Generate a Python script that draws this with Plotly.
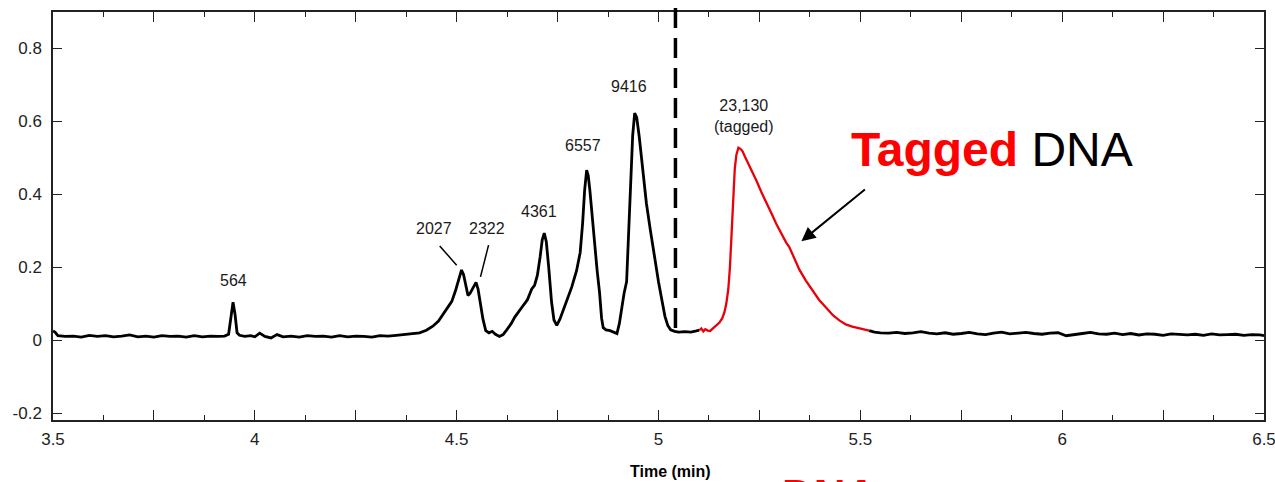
import plotly.graph_objects as go

# ---------------- data ----------------
time_part1 = [3.500, 3.505, 3.512, 3.53, 3.55, 3.57, 3.59, 3.61, 3.63, 3.65, 3.67, 3.69, 3.71, 3.73,
              3.75, 3.77, 3.79, 3.81, 3.83, 3.85, 3.87, 3.89, 3.91, 3.925, 3.935, 3.941, 3.946, 3.951,
              3.956, 3.962, 3.975, 3.99, 4.00, 4.012, 4.025, 4.04, 4.055, 4.07, 4.09, 4.11, 4.13, 4.15,
              4.17, 4.19, 4.21, 4.23, 4.25, 4.27, 4.29, 4.31, 4.33, 4.35, 4.37, 4.39, 4.408, 4.425,
              4.441, 4.455, 4.465, 4.478, 4.488, 4.497, 4.505, 4.512, 4.517, 4.522, 4.528, 4.533, 4.540,
              4.548, 4.553, 4.558, 4.565, 4.572, 4.58, 4.588, 4.596, 4.606, 4.615, 4.624, 4.635, 4.644,
              4.655, 4.663, 4.675, 4.686, 4.693, 4.700, 4.707, 4.712, 4.717, 4.722, 4.728, 4.735, 4.741,
              4.748, 4.756, 4.765, 4.774, 4.785, 4.797, 4.806, 4.812, 4.817, 4.822, 4.826, 4.830, 4.836,
              4.842, 4.848, 4.854, 4.859, 4.863, 4.870, 4.880, 4.890, 4.897, 4.903, 4.909, 4.915, 4.921,
              4.926, 4.931, 4.936, 4.941, 4.946, 4.952, 4.960, 4.970, 4.980, 4.990, 5.000, 5.008, 5.016,
              5.023, 5.030, 5.040, 5.050, 5.065, 5.080, 5.094, 5.101]
signal_part1 = [0.025, 0.022, 0.012, 0.010, 0.011, 0.008, 0.013, 0.010, 0.012, 0.009, 0.011, 0.014, 0.009, 0.011,
                0.008, 0.012, 0.010, 0.011, 0.008, 0.012, 0.009, 0.011, 0.010, 0.011, 0.016, 0.065, 0.104, 0.070,
                0.020, 0.013, 0.010, 0.012, 0.009, 0.019, 0.010, 0.006, 0.015, 0.009, 0.011, 0.008, 0.012, 0.010,
                0.011, 0.008, 0.012, 0.009, 0.011, 0.010, 0.008, 0.012, 0.011, 0.013, 0.015, 0.017, 0.020, 0.027,
                0.038, 0.052, 0.068, 0.088, 0.106, 0.135, 0.168, 0.192, 0.180, 0.150, 0.122, 0.128, 0.143,
                0.158, 0.140, 0.105, 0.058, 0.026, 0.020, 0.024, 0.016, 0.010, 0.015, 0.028, 0.045, 0.063,
                0.078, 0.092, 0.110, 0.140, 0.150, 0.178, 0.230, 0.275, 0.293, 0.270, 0.200, 0.105, 0.055,
                0.040, 0.058, 0.085, 0.110, 0.145, 0.190, 0.240, 0.320, 0.410, 0.466, 0.450, 0.410, 0.330,
                0.262, 0.190, 0.130, 0.060, 0.034, 0.028, 0.026, 0.021, 0.018, 0.045, 0.095, 0.130, 0.160,
                0.280, 0.440, 0.560, 0.622, 0.610, 0.560, 0.470, 0.375, 0.300, 0.228, 0.160, 0.112, 0.065,
                0.040, 0.028, 0.024, 0.022, 0.023, 0.022, 0.025, 0.027]

time_tagged = [5.101, 5.106, 5.111, 5.116, 5.122, 5.128, 5.135, 5.143, 5.151, 5.158, 5.163, 5.168, 5.173,
               5.177, 5.181, 5.185, 5.189, 5.193, 5.198, 5.203, 5.208, 5.214, 5.220, 5.230, 5.243, 5.255,
               5.267, 5.280, 5.292, 5.305, 5.316, 5.324, 5.336, 5.349, 5.365, 5.381, 5.398, 5.416, 5.432,
               5.448, 5.464, 5.480, 5.497, 5.510, 5.522]
signal_tagged = [0.027, 0.032, 0.024, 0.030, 0.026, 0.025, 0.032, 0.040, 0.048, 0.060, 0.075, 0.100, 0.140,
                 0.200, 0.300, 0.400, 0.470, 0.508, 0.527, 0.524, 0.518, 0.503, 0.490, 0.465, 0.436, 0.405,
                 0.375, 0.347, 0.318, 0.290, 0.268, 0.255, 0.225, 0.193, 0.163, 0.136, 0.110, 0.088, 0.068,
                 0.054, 0.043, 0.037, 0.032, 0.029, 0.026]

time_part2 = [5.522, 5.535, 5.55, 5.57, 5.59, 5.61, 5.63, 5.65, 5.67, 5.69, 5.71, 5.73, 5.75, 5.77, 5.79,
              5.81, 5.83, 5.85, 5.87, 5.89, 5.91, 5.93, 5.95, 5.97, 5.99, 6.01, 6.03, 6.05, 6.07, 6.09,
              6.11, 6.13, 6.15, 6.17, 6.19, 6.21, 6.23, 6.25, 6.27, 6.29, 6.31, 6.33, 6.35, 6.37, 6.39,
              6.41, 6.43, 6.45, 6.47, 6.49, 6.50]
signal_part2 = [0.026, 0.022, 0.020, 0.019, 0.021, 0.018, 0.020, 0.023, 0.019, 0.017, 0.020, 0.016, 0.018,
                0.021, 0.017, 0.015, 0.019, 0.022, 0.017, 0.019, 0.021, 0.018, 0.016, 0.019, 0.020, 0.012,
                0.016, 0.018, 0.021, 0.017, 0.016, 0.019, 0.015, 0.018, 0.014, 0.017, 0.016, 0.013, 0.017,
                0.015, 0.014, 0.016, 0.013, 0.017, 0.014, 0.015, 0.016, 0.013, 0.015, 0.014, 0.012]

peak_labels = ["564", "2027", "2322", "4361", "6557", "9416", "23,130<br>(tagged)"]
label_x = [3.948, 4.443, 4.574, 4.705, 4.814, 4.926, 5.213]
label_y = [0.162, 0.307, 0.307, 0.351, 0.534, 0.696, 0.615]

# leader lines (label -> peak) for the two close peaks
leader_x0 = [4.458, 4.579]
leader_y0 = [0.258, 0.260]
leader_x1 = [4.500, 4.559]
leader_y1 = [0.205, 0.173]

marker_time = 5.042       # dashed separator
marker_bottom = 0.033

x_range = [3.5, 6.5]
y_range = [-0.219, 0.899]
x_label_vals = [3.5, 3.75, 4.0, 4.25, 4.5, 4.75, 5.0, 5.25, 5.5, 5.75, 6.0, 6.25, 6.5]
x_label_text = ["3.5", "", "4", "", "4.5", "", "5", "", "5.5", "", "6", "", "6.5"]
y_label_vals = [-0.2, 0, 0.2, 0.4, 0.6, 0.8]
y_label_text = ["-0.2", "0", "0.2", "0.4", "0.6", "0.8"]

FONT = "Liberation Sans, Arial, sans-serif"

fig = go.Figure()
fig.add_trace(go.Scatter(x=time_part1 + [None] + time_part2,
                         y=signal_part1 + [None] + signal_part2,
                         mode="lines", line=dict(color="black", width=2.8),
                         showlegend=False, hoverinfo="skip"))
fig.add_trace(go.Scatter(x=time_tagged, y=signal_tagged, mode="lines",
                         line=dict(color="#e8000b", width=2.3),
                         showlegend=False, hoverinfo="skip"))

for t, lx, ly in zip(peak_labels, label_x, label_y):
    fig.add_annotation(x=lx, y=ly, xref="x", yref="y", text=t, showarrow=False,
                       font=dict(family=FONT, size=16, color="#1a1a1a"))

for a, b, c, d in zip(leader_x0, leader_y0, leader_x1, leader_y1):
    fig.add_shape(type="line", x0=a, y0=b, x1=c, y1=d, xref="x", yref="y",
                  line=dict(color="black", width=1.5))

span = y_range[1] - y_range[0]
fig.add_shape(type="line", xref="x", yref="paper", x0=marker_time, x1=marker_time,
              y0=(marker_bottom - y_range[0]) / span, y1=1.1,
              line=dict(color="black", width=3.5, dash="20px,10px"))

# "Tagged DNA" callout and arrow
fig.add_annotation(x=5.827, y=0.522, xref="x", yref="y", showarrow=False,
                   text="<b><span style='color:#ff0000'>Tagged</span></b> DNA",
                   font=dict(family=FONT, size=48, color="black"))
fig.add_annotation(x=5.354, y=0.271, ax=5.515, ay=0.416, xref="x", yref="y",
                   axref="x", ayref="y", text="", showarrow=True, arrowhead=2,
                   arrowsize=1.4, arrowwidth=2, arrowcolor="black")

# axis title and cut-off red text at the bottom (as in the reference)
fig.add_annotation(x=0.5103, y=-0.125, xref="paper", yref="paper", yanchor="middle",
                   xanchor="center", showarrow=False,
                   text="<b>Time (min)</b>", font=dict(family=FONT, size=16, color="black"))
fig.add_annotation(x=0.6416, y=-0.119, xref="paper", yref="paper", yanchor="top",
                   xanchor="center", showarrow=False, text="<b>DNA</b>",
                   font=dict(family=FONT, size=44, color="#ff0000"))

axis_common = dict(showline=True, linecolor="#222", linewidth=1.5, mirror="ticks",
                   ticks="inside", tickcolor="#222", tickwidth=1.2, showgrid=False,
                   zeroline=False, automargin=False, ticklabeloverflow="allow",
                   tickfont=dict(family=FONT, size=17, color="#222"))
fig.update_xaxes(range=x_range, tickmode="array", tickvals=x_label_vals, ticktext=x_label_text,
                 ticklen=10, ticklabelstandoff=3,
                 minor=dict(dtick=0.125, tick0=3.5, ticks="inside", ticklen=5,
                            tickcolor="#222", tickwidth=1.2, showgrid=False),
                 **axis_common)
fig.update_yaxes(range=y_range, tickmode="array", tickvals=y_label_vals, ticktext=y_label_text,
                 ticklen=9, ticklabelstandoff=6, **axis_common)

fig.update_layout(width=1275, height=482, margin=dict(l=53, r=11, t=12, b=62),
                  paper_bgcolor="white", plot_bgcolor="white")

fig.write_html("out.html")
